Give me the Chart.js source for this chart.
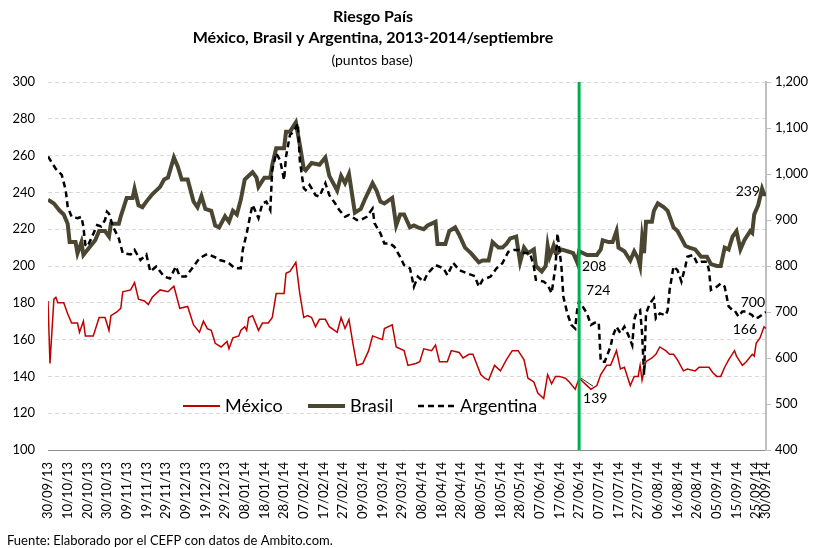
<!DOCTYPE html>
<html>
<head>
<meta charset="utf-8">
<script src="https://cdn.jsdelivr.net/npm/chart.js@4.4.0/dist/chart.umd.min.js"></script>
<style>
  body { margin: 0; background: #fff; }
  canvas { display: block; }
</style>
</head>
<body>
<canvas id="riesgo" width="814" height="548"></canvas>
<script>
// fechas del eje (cada 10 dias)
const tickLabels = ['30/09/13', '10/10/13', '20/10/13', '30/10/13', '09/11/13', '19/11/13', '29/11/13', '09/12/13',
  '19/12/13', '29/12/13', '08/01/14', '18/01/14', '28/01/14', '07/02/14', '17/02/14', '27/02/14', '09/03/14',
  '19/03/14', '29/03/14', '08/04/14', '18/04/14', '28/04/14', '08/05/14', '18/05/14', '28/05/14', '07/06/14',
  '17/06/14', '27/06/14', '07/07/14', '17/07/14', '27/07/14', '06/08/14', '16/08/14', '26/08/14', '05/09/14',
  '15/09/14', '25/09/14', '30/09/14'];
const markDate = '27/06/14';

// dias desde 30/09/13 y puntos base
const mexicoDays = [0, 1, 3, 4, 5, 8, 10, 12, 15, 16, 18, 19, 23, 26, 29, 31, 32, 35, 37, 38, 42, 44, 46, 49, 51, 53, 57,
  61, 64, 67, 71, 74, 77, 79, 81, 83, 85, 88, 91, 92, 94, 97, 98, 100, 101, 102, 104, 107, 109, 112, 114, 116, 120, 121,
  123, 126, 128, 130, 132, 134, 136, 138, 141, 143, 147, 149, 151, 153, 155, 157, 160, 163, 165, 170, 171, 175, 177, 181,
  183, 187, 189, 191, 195, 197, 199, 203, 205, 209, 211, 214, 216, 220, 222, 224, 227, 230, 233, 236, 239, 242, 244, 247,
  249, 252, 254, 256, 258, 260, 263, 265, 268, 270, 274, 276, 279, 281, 284, 286, 289, 291, 293, 296, 298, 300, 301, 302,
  304, 307, 309, 311, 314, 316, 318, 320, 323, 325, 329, 331, 336, 338, 340, 342, 344, 346, 349, 350, 353, 355, 358, 359,
  360, 362, 364, 365];
const mexicoValues = [181, 147, 182, 183, 180, 180, 174, 169, 169, 164, 170, 162, 162, 172, 172, 165, 173, 175, 177, 186,
  187, 191, 182, 181, 179, 183, 187, 186, 189, 177, 178, 168, 164, 170, 166, 165, 158, 156, 159, 155, 161, 162, 165, 167,
  165, 172, 173, 165, 169, 169, 172, 185, 185, 196, 197, 202, 185, 172, 173, 172, 167, 171, 171, 167, 164, 172, 166, 171,
  158, 146, 147, 154, 162, 160, 166, 168, 156, 154, 146, 147, 148, 155, 154, 157, 148, 148, 154, 153, 150, 152, 152, 141,
  139, 138, 146, 143, 149, 154, 154, 149, 139, 137, 131, 128, 141, 136, 140, 140, 139, 137, 133, 139, 135, 133, 135, 141,
  146, 146, 154, 144, 145, 135, 140, 140, 146, 138, 148, 150, 152, 156, 154, 152, 152, 149, 143, 144, 143, 145, 145, 142,
  140, 140, 145, 149, 154, 151, 146, 148, 152, 151, 158, 161, 167, 166];

const brasilDays = [0, 3, 6, 8, 10, 11, 14, 15, 17, 18, 21, 24, 26, 29, 31, 32, 36, 37, 40, 43, 44, 46, 48, 50, 53, 57, 59,
  61, 64, 66, 68, 71, 74, 76, 78, 80, 83, 85, 87, 90, 92, 94, 96, 98, 100, 103, 104, 106, 107, 110, 113, 114, 116, 120,
  121, 123, 126, 128, 130, 131, 134, 138, 141, 143, 147, 149, 151, 153, 156, 159, 161, 165, 167, 169, 171, 175, 177, 179,
  181, 184, 186, 188, 191, 193, 197, 198, 202, 204, 207, 209, 212, 215, 219, 221, 224, 226, 229, 231, 233, 235, 238, 240,
  242, 244, 247, 248, 251, 253, 254, 255, 257, 258, 259, 261, 264, 267, 269, 270, 274, 279, 281, 282, 285, 287, 289, 290,
  293, 296, 298, 300, 301, 302, 303, 304, 307, 308, 310, 313, 315, 318, 320, 324, 326, 329, 332, 335, 337, 340, 342, 344,
  346, 348, 350, 352, 354, 357, 358, 359, 361, 363, 364, 365];
const brasilValues = [236, 234, 230, 228, 223, 213, 213, 207, 213, 206, 210, 214, 219, 219, 216, 223, 223, 227, 237, 237,
  242, 233, 232, 235, 239, 243, 247, 248, 259, 254, 247, 247, 235, 232, 238, 231, 230, 222, 221, 227, 224, 230, 228, 236,
  247, 250, 251, 248, 243, 248, 248, 255, 264, 264, 273, 273, 278, 266, 253, 252, 256, 255, 259, 249, 241, 249, 245, 250,
  229, 231, 236, 245, 241, 235, 234, 237, 222, 228, 228, 221, 222, 221, 220, 222, 224, 212, 212, 219, 221, 217, 210, 207,
  202, 203, 203, 213, 210, 210, 212, 215, 216, 202, 210, 207, 209, 200, 197, 200, 211, 205, 211, 207, 207, 209, 208, 207,
  202, 208, 206, 206, 209, 214, 213, 213, 219, 210, 208, 203, 208, 204, 200, 215, 207, 224, 224, 230, 234, 232, 230, 221,
  219, 211, 210, 209, 205, 205, 201, 200, 200, 210, 209, 216, 219, 209, 214, 219, 218, 228, 233, 242, 239, 239];

const argentinaDays = [0, 4, 7, 9, 10, 12, 15, 17, 18, 19, 20, 22, 25, 27, 29, 30, 31, 33, 36, 38, 42, 44, 47, 50, 52, 55,
  59, 62, 65, 67, 70, 74, 77, 81, 86, 87, 91, 92, 95, 98, 99, 101, 103, 104, 107, 109, 111, 113, 114, 116, 118, 120, 121,
  123, 125, 127, 128, 130, 131, 133, 136, 138, 141, 143, 146, 148, 151, 153, 157, 159, 162, 165, 166, 169, 171, 174, 176,
  179, 181, 184, 186, 188, 191, 193, 197, 201, 203, 206, 209, 213, 217, 219, 221, 225, 228, 231, 234, 237, 239, 242, 245,
  247, 248, 252, 254, 256, 258, 259, 261, 262, 264, 266, 268, 269, 270, 274, 276, 279, 280, 281, 283, 286, 287, 289, 291,
  293, 295, 297, 298, 299, 301, 302, 303, 304, 306, 308, 309, 311, 314, 315, 316, 318, 320, 322, 324, 325, 328, 330, 332,
  335, 336, 337, 340, 342, 344, 346, 348, 349, 351, 353, 355, 358, 359, 361, 364, 365];
const argentinaValues = [1038, 1011, 998, 965, 929, 907, 904, 907, 885, 846, 842, 860, 889, 886, 900, 918, 914, 886, 860,
  828, 825, 835, 813, 825, 788, 799, 777, 773, 799, 777, 777, 799, 817, 826, 817, 813, 809, 806, 795, 795, 835, 871, 914,
  933, 904, 936, 940, 922, 1009, 1045, 1030, 987, 1038, 1085, 1092, 1110, 1030, 969, 965, 976, 954, 951, 980, 954, 936,
  922, 907, 911, 900, 900, 907, 925, 893, 871, 849, 849, 842, 820, 802, 795, 755, 777, 766, 784, 802, 795, 780, 807, 791,
  784, 778, 755, 770, 777, 795, 806, 831, 835, 835, 828, 828, 799, 770, 766, 759, 741, 799, 871, 799, 733, 697, 672, 664,
  704, 724, 697, 672, 679, 675, 592, 592, 625, 646, 668, 654, 668, 650, 628, 683, 697, 704, 654, 563, 697, 719, 730, 686,
  697, 693, 704, 748, 799, 791, 766, 799, 820, 824, 806, 809, 809, 791, 748, 755, 762, 755, 712, 704, 704, 690, 701, 701,
  693, 686, 688, 697, 700];

const FONT = 'Lato, "Open Sans", sans-serif';

function toDay(label) {
  const p = label.split('/');
  const t = Date.UTC(2000 + Number(p[2]), Number(p[1]) - 1, Number(p[0]));
  return Math.round((t - Date.UTC(2013, 8, 30)) / 86400000);
}
const tickDays = tickLabels.map(toDay);

function points(days, vals) {
  return days.map((d, i) => ({ x: d, y: vals[i] }));
}

const extras = {
  id: 'extras',
  afterDraw(chart) {
    const c = chart.ctx;
    const area = chart.chartArea;
    const x = chart.scales.x, y = chart.scales.y, y1 = chart.scales.y1;
    c.save();

    // linea verde
    const gx = x.getPixelForValue(toDay(markDate));
    c.strokeStyle = '#00b050';
    c.lineWidth = 3;
    c.beginPath();
    c.moveTo(gx, area.top);
    c.lineTo(gx, area.bottom);
    c.stroke();

    // titulos
    c.fillStyle = '#000';
    c.textAlign = 'center';
    c.textBaseline = 'middle';
    c.font = 'bold 16px ' + FONT;
    c.fillText('Riesgo País', 373, 17);
    c.fillText('México, Brasil y Argentina, 2013-2014/septiembre', 373, 38);
    c.font = '14px ' + FONT;
    c.fillText('(puntos base)', 372, 60);

    // fuente
    c.textAlign = 'left';
    c.font = '13px ' + FONT;
    c.fillText('Fuente: Elaborado por el CEFP con datos de Ambito.com.', 7, 541);

    // leyenda
    const legend = [
      { text: 'México', color: '#c00000', width: 2, dash: [], x: 183 },
      { text: 'Brasil', color: '#4b4631', width: 4, dash: [], x: 308 },
      { text: 'Argentina', color: '#000', width: 2.5, dash: [6, 4], x: 418 }
    ];
    c.font = '18px ' + FONT;
    legend.forEach(l => {
      c.strokeStyle = l.color;
      c.lineWidth = l.width;
      c.setLineDash(l.dash);
      c.beginPath();
      c.moveTo(l.x, 406);
      c.lineTo(l.x + 37, 406);
      c.stroke();
      c.setLineDash([]);
      c.fillStyle = '#000';
      c.fillText(l.text, l.x + 42, 406);
    });

    // etiquetas de datos
    const md = toDay(markDate);
    const last = 365;
    c.font = '14px ' + FONT;
    c.fillStyle = '#000';
    const bx = x.getPixelForValue(md);
    c.textAlign = 'left';
    c.fillText('208', bx + 3, y.getPixelForValue(208) + 15);
    c.fillText('724', bx + 7, y1.getPixelForValue(724) - 10);
    const my = y.getPixelForValue(139);
    c.fillText('139', bx + 4, my + 20);
    c.strokeStyle = '#000';
    c.lineWidth = 0.8;
    c.beginPath();
    c.moveTo(bx + 2, my);
    c.lineTo(bx + 14, my + 8);
    c.stroke();
    const lx = x.getPixelForValue(last);
    c.textAlign = 'right';
    c.fillText('239', lx - 6, y.getPixelForValue(239) - 3);
    c.fillText('700', lx - 1, y1.getPixelForValue(700) - 10);
    c.fillText('166', lx - 9, y.getPixelForValue(166) + 1);

    c.restore();
  }
};

new Chart(document.getElementById('riesgo'), {
  type: 'line',
  data: {
    datasets: [
      {
        label: 'Argentina',
        data: points(argentinaDays, argentinaValues),
        yAxisID: 'y1',
        borderColor: '#000',
        borderWidth: 2.5,
        borderDash: [6, 4],
        pointRadius: 0,
        order: 0
      },
      {
        label: 'Brasil',
        data: points(brasilDays, brasilValues),
        yAxisID: 'y',
        borderColor: '#4b4631',
        borderWidth: 4,
        pointRadius: 0,
        order: 1
      },
      {
        label: 'México',
        data: points(mexicoDays, mexicoValues),
        yAxisID: 'y',
        borderColor: '#c00000',
        borderWidth: 1.5,
        pointRadius: 0,
        order: 2
      }
    ]
  },
  options: {
    responsive: false,
    animation: false,
    layout: { padding: { top: 82, left: 0, right: 0, bottom: 0 } },
    plugins: {
      legend: { display: false },
      tooltip: { enabled: false },
      title: { display: false }
    },
    scales: {
      x: {
        type: 'linear',
        min: 0,
        max: 365,
        afterBuildTicks: s => { s.ticks = tickDays.map(v => ({ value: v })); },
        afterFit: s => { s.height = 98; },
        grid: { display: false },
        border: { color: '#8c8c8c', width: 1 },
        ticks: {
          autoSkip: false,
          maxRotation: 90,
          minRotation: 90,
          padding: 4,
          color: '#000',
          font: { family: FONT, size: 13 },
          callback: v => tickLabels[tickDays.indexOf(v)]
        }
      },
      y: {
        position: 'left',
        min: 100,
        max: 300,
        afterFit: s => { s.width = 48; },
        grid: { color: '#d9d9d9', drawTicks: false },
        border: { display: false, dash: [4, 3] },
        ticks: {
          stepSize: 20,
          padding: 13,
          color: '#000',
          font: { family: FONT, size: 13 }
        }
      },
      y1: {
        position: 'right',
        min: 400,
        max: 1200,
        afterFit: s => { s.width = 48; },
        grid: { drawOnChartArea: false, drawTicks: true, tickLength: 5, tickColor: '#bfbfbf' },
        border: { color: '#bfbfbf', width: 2 },
        ticks: {
          stepSize: 100,
          padding: 4,
          color: '#000',
          font: { family: FONT, size: 13 }
,
          callback: v => v.toLocaleString('en-US')
        }
      }
    }
  },
  plugins: [extras]
});
</script>
</body>
</html>
